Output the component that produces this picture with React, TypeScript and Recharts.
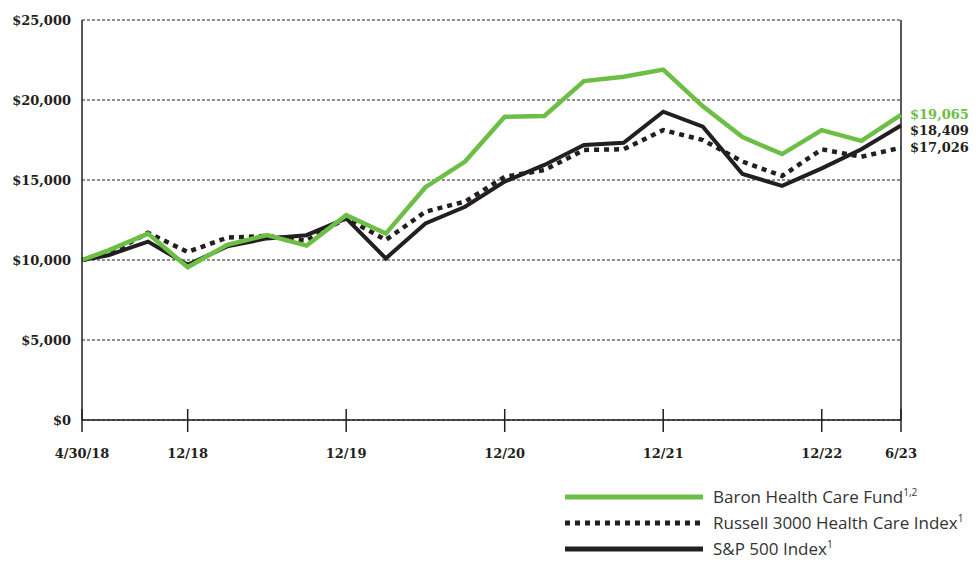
import { LineChart, Line, XAxis, YAxis, CartesianGrid, ReferenceLine } from 'recharts'

// months elapsed since 4/30/18 (quarter ends)
const months = [0, 2, 5, 8, 11, 14, 17, 20, 23, 26, 29, 32, 35, 38, 41, 44, 47, 50, 53, 56, 59, 62]
const baron = [10000, 10600, 11650, 9550, 10950, 11560, 10900, 12800, 11650, 14550, 16150, 18950, 19000, 21180, 21450, 21900, 19600, 17680, 16620, 18120, 17450, 19065]
const russell = [10000, 10350, 11700, 10500, 11400, 11500, 11200, 12620, 11250, 13020, 13650, 15200, 15620, 16880, 16920, 18120, 17500, 16150, 15250, 16920, 16450, 17026]
const sp500 = [10000, 10300, 11150, 9700, 10850, 11350, 11550, 12600, 10100, 12280, 13330, 14900, 15940, 17190, 17330, 19270, 18330, 15380, 14630, 15730, 16920, 18409]

const xTicks = [0, 8, 20, 32, 44, 56, 62]
const xTickLabels = ['4/30/18', '12/18', '12/19', '12/20', '12/21', '12/22', '6/23']
const yTicks = [0, 5000, 10000, 15000, 20000, 25000]

const data = months.map((m, i) => ({ m, baron: baron[i], russell: russell[i], sp500: sp500[i] }))

const GREEN = '#6dbe45'
const INK = '#231f20'
const serif = '"DejaVu Serif", serif'

const fmt = (v: number) => `$${v.toLocaleString('en-US')}`

function XTick({ x, y, payload }: any) {
  const label = xTickLabels[xTicks.indexOf(payload.value)]
  return (
    <g>
      <line x1={x} x2={x} y1={y - 11} y2={y + 12} stroke={INK} strokeWidth={1.5} />
      <text x={x} y={y + 38} textAnchor="middle" fill={INK} fontSize={13} fontWeight="bold" fontFamily={serif}>
        {label}
      </text>
    </g>
  )
}

const endLabel = (color: string, dy: number) => (props: any) => {
  const { x, y, index, value } = props
  if (index !== data.length - 1) return null
  return (
    <text x={x + 9} y={y + dy} dy="0.36em" fill={color} fontSize={13} fontWeight="bold" fontFamily={serif}>
      {fmt(value)}
    </text>
  )
}

function LegendRow({ color, dash, label, sup }: { color: string; dash?: string; label: string; sup: string }) {
  return (
    <div style={{ display: 'flex', alignItems: 'center', height: 26 }}>
      <svg width={138} height={8} style={{ marginRight: 10, flexShrink: 0 }}>
        <line x1={0} x2={138} y1={4} y2={4} stroke={color} strokeWidth={5} strokeDasharray={dash} />
      </svg>
      <span style={{ fontFamily: '"Open Sans", sans-serif', fontSize: 17, color: '#333', whiteSpace: 'nowrap', lineHeight: '26px' }}>
        {label}
        <sup style={{ fontSize: 10, lineHeight: 0 }}>{sup}</sup>
      </span>
    </div>
  )
}

export default function App() {
  return (
    <div style={{ position: 'absolute', left: 0, top: 0, width: 980, height: 562, background: '#fff', overflow: 'hidden' }}>
      <LineChart width={980} height={562} data={data} margin={{ top: 20, right: 79, left: 0, bottom: 82 }}>
        <CartesianGrid vertical={false} stroke={INK} strokeDasharray="3 2" horizontalValues={yTicks} />
        <XAxis
          dataKey="m"
          type="number"
          domain={[0, 62]}
          ticks={xTicks}
          tick={<XTick />}
          tickLine={false}
          tickSize={0}
          tickMargin={0}
          height={60}
          stroke={INK}
          strokeWidth={1.5}
          interval={0}
        />
        <YAxis
          domain={[0, 25000]}
          ticks={yTicks}
          tickFormatter={fmt}
          width={82}
          tickLine={false}
          tickSize={0}
          tickMargin={11}
          stroke={INK}
          strokeWidth={1.5}
          tick={{ fill: INK, fontSize: 13, fontWeight: 'bold', fontFamily: serif }}
        />
        <ReferenceLine x={62} stroke={INK} strokeWidth={1.5} />
        <Line dataKey="sp500" stroke={INK} strokeWidth={4} dot={false} isAnimationActive={false} strokeLinejoin="miter" label={endLabel(INK, 4.5)} />
        <Line dataKey="russell" stroke={INK} strokeWidth={4.5} strokeDasharray="5 5" dot={false} isAnimationActive={false} label={endLabel(INK, 0)} />
        <Line dataKey="baron" stroke={GREEN} strokeWidth={4.5} dot={false} isAnimationActive={false} label={endLabel(GREEN, -0.5)} />
      </LineChart>
      <div style={{ position: 'absolute', left: 565, top: 484 }}>
        <LegendRow color={GREEN} label="Baron Health Care Fund" sup="1,2" />
        <LegendRow color={INK} dash="5 5" label="Russell 3000 Health Care Index" sup="1" />
        <LegendRow color={INK} label="S&P 500 Index" sup="1" />
      </div>
    </div>
  )
}
